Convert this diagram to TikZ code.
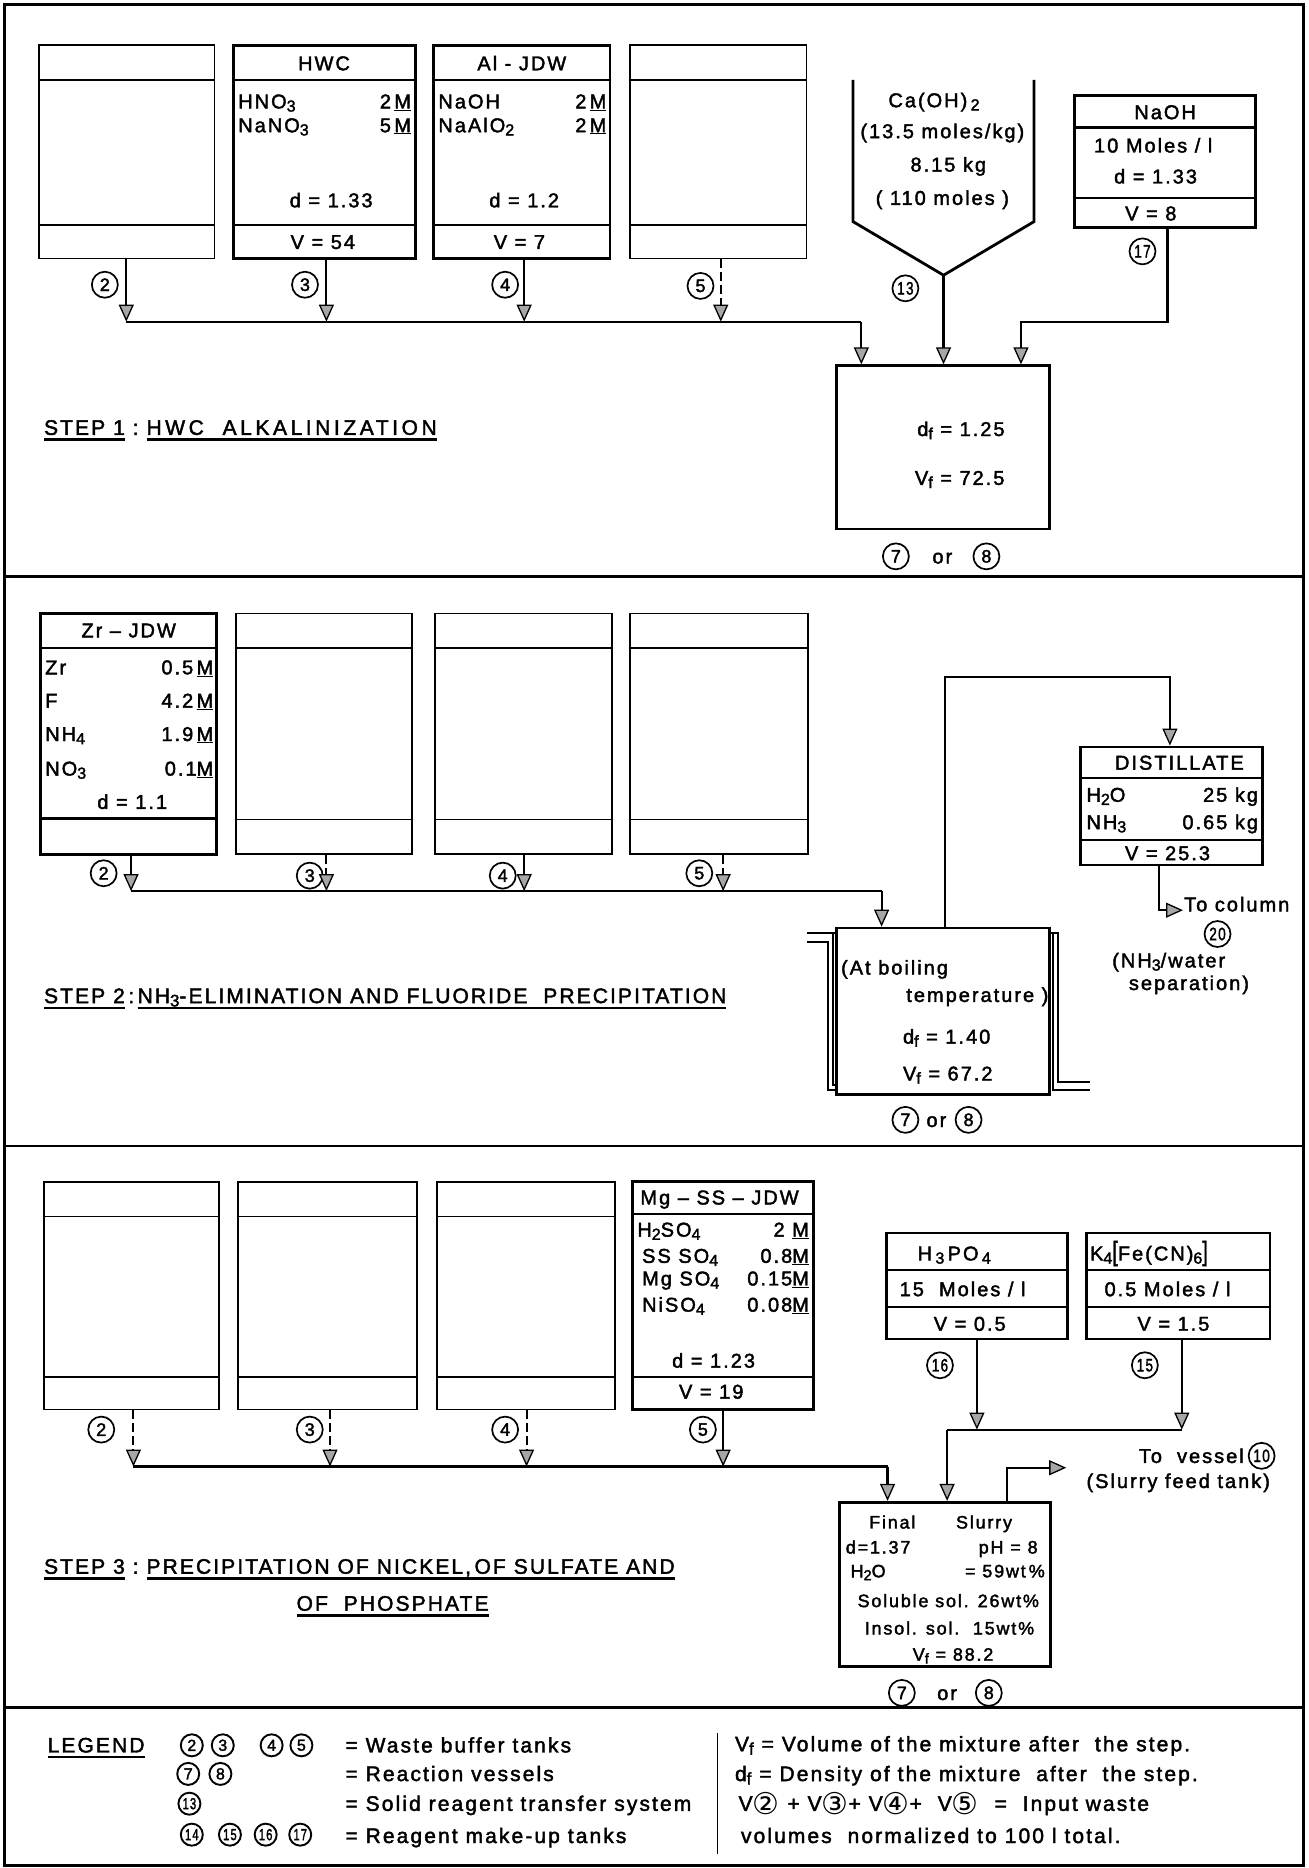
\documentclass[tikz,border=0pt]{standalone}
\usepackage{fontspec}
\setmainfont{Liberation Sans}[LetterSpace=10,FakeBold=2]
\newfontfamily\djv{DejaVu Sans}
\usepackage{graphicx}
\usetikzlibrary{arrows.meta,fit}
\newcommand\fsz[1]{\fontsize{#1}{#1}\selectfont}
\newcommand\dnx[1]{\raisebox{-0.3ex}{\scalebox{0.8}{#1}}}
\newcommand\uM{\underline{M}}
\newcommand\ulthick[1]{\setbox0=\hbox{#1}\rlap{\rule[-6pt]{\wd0}{2.4pt}}\box0}
\newcommand\cgl[1]{\raisebox{-3.5pt}{\djv\fsz{30}#1}}
\begin{document}
\begin{tikzpicture}[x=1.1913pt, y=-1.1913pt,
  txt/.style={inner sep=0pt, outer sep=0pt, font=\fsz{20}},
  vtxt/.style={inner sep=0pt, outer sep=0pt, font=\fsz{18}},
  ttl/.style={inner sep=0pt, outer sep=0pt, font=\fsz{21}},
  lgd/.style={inner sep=0pt, outer sep=0pt, font=\fsz{21}},
  tbox/.style={draw, line width=1.7pt, inner sep=0pt},
  kbox/.style={draw, line width=2.8pt, inner sep=0pt},
  bline/.style={line width=1.7pt},
  kline/.style={line width=2.4pt},
  flow/.style={line width=2.1pt},
  arr/.style={flow, -{Triangle[length=17pt,width=15pt,fill=gray!70,line width=1.3pt]}},
  dsh/.style={dash pattern=on 9pt off 4pt},
  cn/.style={draw, circle, line width=1.7pt, minimum size=26pt, inner sep=0pt, font=\fsz{18}},
  lcn/.style={draw, circle, line width=1.9pt, minimum size=22pt, inner sep=0pt, font=\fsz{16}},
]
\useasboundingbox (0,0) rectangle (1098,1568);
% frame and dividers
\draw[line width=3pt] (4,4) rectangle (1094,1566);
\draw[line width=2.8pt] (4,484) -- (1094,484);
\draw[line width=2.8pt] (4,962) -- (1094,962);
\draw[line width=2.8pt] (4,1433) -- (1094,1433);

%%%%%%%%%%%%%%%% STEP 1
\node[tbox, fit={(33,38) (180,217)}] (s1t1) {};
\draw[bline] (33,67) -- (180,67); \draw[bline] (33,189) -- (180,189);
\node[kbox, fit={(196,38) (349,217)}] (s1t2) {};
\draw[kline] (196,67) -- (349,67); \draw[kline] (196,189) -- (349,189);
\node[kbox, fit={(364,38) (512,217)}] (s1t3) {};
\draw[kline] (364,67) -- (512,67); \draw[kline] (364,189) -- (512,189);
\node[tbox, fit={(529,38) (677,217)}] (s1t4) {};
\draw[bline] (529,67) -- (677,67); \draw[bline] (529,189) -- (677,189);

\node[txt, anchor=base] (s1hwc) at (272,59) {HWC};
\node[txt, anchor=base west] (s1a1) at (200,91) {HNO\dnx{3}};
\node[txt, anchor=base east] (s1a2) at (345,91) {2\,\uM};
\node[txt, anchor=base west] (s1a3) at (200,111) {NaNO\dnx{3}};
\node[txt, anchor=base east] (s1a4) at (345,111) {5\,\uM};
\node[txt, anchor=base] (s1a5) at (278,174) {d = 1.33};
\node[txt, anchor=base] (s1a6) at (271,209) {V = 54};

\node[txt, anchor=base] (s1al) at (438,59) {Al - JDW};
\node[txt, anchor=base west] (s1b1) at (368,91) {NaOH};
\node[txt, anchor=base east] (s1b2) at (509,91) {2\,\uM};
\node[txt, anchor=base west] (s1b3) at (368,111) {NaAlO\dnx{2}};
\node[txt, anchor=base east] (s1b4) at (509,111) {2\,\uM};
\node[txt, anchor=base] (s1b5) at (440,174) {d = 1.2};
\node[txt, anchor=base] (s1b6) at (436,209) {V = 7};

% hopper
\draw[line width=2.8pt] (716,67) -- (716,186) -- (792,231) -- (868,186) -- (868,67);
\coordinate (hoptip) at (792,231);
\node[txt, anchor=base] (s1c1) at (784,90) {Ca(OH)\,\dnx{2}};
\node[txt, anchor=base] (s1c2) at (791,116) {(13.5 moles/kg)};
\node[txt, anchor=base] (s1c3) at (796,144) {8.15 kg};
\node[txt, anchor=base] (s1c4) at (791,172) {( 110 moles )};

% NaOH tank
\node[kbox, fit={(902,80) (1054,191)}] (s1na) {};
\draw[kline] (902,107) -- (1054,107); \draw[kline] (902,166) -- (1054,166);
\node[txt, anchor=base] (s1d1) at (978,100) {NaOH};
\node[txt, anchor=base] (s1d2) at (968,128) {10 Moles / l};
\node[txt, anchor=base] (s1d3) at (970,154) {d = 1.33};
\node[txt, anchor=base] (s1d4) at (966,185) {V = 8};

% reaction vessel 1
\node[kbox, fit={(702,307) (881,444)}] (s1v) {};
\node[txt, anchor=base west] (s1v1) at (770,366) {d\dnx{f} = 1.25};
\node[txt, anchor=base west] (s1v2) at (768,407) {V\dnx{f} = 72.5};
\node[cn] (s1r7) at (752,467) {7};
\node[txt, anchor=base] (s1or) at (791,473) {or};
\node[cn] (s1r8) at (828,467) {8};

% circled numbers
\node[cn] (s1n2) at (88,239) {2};
\node[cn] (s1n3) at (256,239) {3};
\node[cn] (s1n4) at (424,239) {4};
\node[cn] (s1n5) at (588,240) {5};
\node[cn] (s1n13) at (760,242) {\scalebox{0.75}[1]{13}};
\node[cn] (s1n17) at (959,211) {\scalebox{0.75}[1]{17}};

% flows
\coordinate (j12) at (106,270);
\coordinate (j13) at (274,270);
\coordinate (j14) at (440,270);
\coordinate (j15) at (605,270);
\coordinate (k1) at (723,270);
\draw[arr] (s1t1.south -| j12) -- (j12);
\draw[arr] (s1t2.south -| j13) -- (j13);
\draw[arr] (s1t3.south -| j14) -- (j14);
\draw[arr, dsh] (s1t4.south -| j15) -- (j15);
\draw[flow] (j12) -- (k1);
\draw[arr] (k1) -- (k1 |- s1v.north);
\draw[arr] (hoptip) -- (hoptip |- s1v.north);
\coordinate (n1) at (980,270);
\coordinate (n2) at (857,270);
\draw[arr] (s1na.south -| n1) -- (n1) -- (n2) -- (n2 |- s1v.north);

\node[ttl, anchor=base west] (title1) at (37,365) {\ulthick{STEP 1}\ :\ \ulthick{\addfontfeature{LetterSpace=17}HWC\ \ ALKALINIZATION}};

%%%%%%%%%%%%%%%% STEP 2
\node[kbox, fit={(34,515) (182,717)}] (s2t1) {};
\draw[kline] (34,544) -- (182,544); \draw[kline] (34,687) -- (182,687);
\node[tbox, fit={(198,515) (346,717)}] (s2t2) {};
\draw[bline] (198,544) -- (346,544); \draw[bline] (198,688) -- (346,688);
\node[tbox, fit={(365,515) (514,717)}] (s2t3) {};
\draw[bline] (365,544) -- (514,544); \draw[bline] (365,688) -- (514,688);
\node[tbox, fit={(529,515) (678,717)}] (s2t4) {};
\draw[bline] (529,544) -- (678,544); \draw[bline] (529,688) -- (678,688);

\node[txt, anchor=base] (s2z0) at (108,535) {Zr -- JDW};
\node[txt, anchor=base west] (s2z1) at (38,566) {Zr};
\node[txt, anchor=base east] (s2z2) at (179,566) {0.5\,\uM};
\node[txt, anchor=base west] (s2z3) at (38,594) {F};
\node[txt, anchor=base east] (s2z4) at (179,594) {4.2\,\uM};
\node[txt, anchor=base west] (s2z5) at (38,622) {NH\dnx{4}};
\node[txt, anchor=base east] (s2z6) at (179,622) {1.9\,\uM};
\node[txt, anchor=base west] (s2z7) at (38,651) {NO\dnx{3}};
\node[txt, anchor=base east] (s2z8) at (179,651) {0.1\uM};
\node[txt, anchor=base] (s2z9) at (111,679) {d = 1.1};

\node[cn] (s2n2) at (87,733) {2};
\node[cn] (s2n3) at (260,735) {3};
\node[cn] (s2n4) at (422,735) {4};
\node[cn] (s2n5) at (587,733) {5};

\node[kbox, fit={(702,779) (881,919)}] (s2v) {};
% heating jacket
\draw[bline] (677,783) -- (702,783);
\draw[bline] (699,783) -- (699,911) -- (702,911);
\draw[bline] (677,790.5) -- (695,790.5) -- (695,915) -- (702,915);
\draw[bline] (881,783) -- (888,783) -- (888,908) -- (915,908);
\draw[bline] (884,783) -- (884,915) -- (915,915);

\node[txt, anchor=base west] (s2v1) at (706,818) {(At boiling};
\node[txt, anchor=base east] (s2v2) at (880,841) {temperature )};
\node[txt, anchor=base west] (s2v3) at (758,876) {d\dnx{f} = 1.40};
\node[txt, anchor=base west] (s2v4) at (758,907) {V\dnx{f} = 67.2};
\node[cn] (s2r7) at (760,940) {7};
\node[txt, anchor=base] (s2or) at (786,946) {or};
\node[cn] (s2r8) at (813,940) {8};

\coordinate (j22) at (110,748);
\coordinate (j23) at (274,748);
\coordinate (j24) at (440,748);
\coordinate (j25) at (607,748);
\coordinate (k2) at (740,748);
\draw[arr] (s2t1.south -| j22) -- (j22);
\draw[arr, dsh] (s2t2.south -| j23) -- (j23);
\draw[arr] (s2t3.south -| j24) -- (j24);
\draw[arr, dsh] (s2t4.south -| j25) -- (j25);
\draw[flow] (j22) -- (k2);
\draw[arr] (k2) -- (k2 |- s2v.north);

% distillate
\node[kbox, fit={(907,627) (1060,726)}] (s2d) {};
\draw[kline] (907,653) -- (1060,653); \draw[kline] (907,705) -- (1060,705);
\node[txt, anchor=base] (s2d0) at (990,646) {DISTILLATE};
\node[txt, anchor=base west] (s2d1) at (912,673) {H\dnx{2}O};
\node[txt, anchor=base east] (s2d2) at (1056,673) {25 kg};
\node[txt, anchor=base west] (s2d3) at (912,696) {NH\dnx{3}};
\node[txt, anchor=base east] (s2d4) at (1056,696) {0.65 kg};
\node[txt, anchor=base] (s2d5) at (980,722) {V = 25.3};
\coordinate (dup) at (793,568);
\coordinate (dr) at (982,568);
\draw[arr] (s2v.north -| dup) -- (dup) -- (dr) -- (dr |- s2d.north);
\coordinate (tc1) at (973,764);
\coordinate (tc2) at (993,764);
\draw[arr] (s2d.south -| tc1) -- (tc1) -- (tc2);
\node[txt, anchor=base west] (s2c1) at (994,765) {To column};
\node[cn] (s2n20) at (1022,784) {\scalebox{0.75}[1]{20}};
\node[txt, anchor=base] (s2c2) at (981,812) {(NH\dnx{3}/water};
\node[txt, anchor=base] (s2c3) at (998,831) {separation)};

\node[ttl, anchor=base west] (title2) at (37,842) {\ulthick{STEP 2}\,:\,\ulthick{NH\dnx{3}-ELIMINATION AND FLUORIDE\ \ PRECIPITATION}};

%%%%%%%%%%%%%%%% STEP 3
\node[tbox, fit={(37,992) (184,1183)}] (s3t1) {};
\draw[bline] (37,1021) -- (184,1021); \draw[bline] (37,1156) -- (184,1156);
\node[tbox, fit={(200,992) (350,1183)}] (s3t2) {};
\draw[bline] (200,1021) -- (350,1021); \draw[bline] (200,1156) -- (350,1156);
\node[tbox, fit={(367,992) (516,1183)}] (s3t3) {};
\draw[bline] (367,1021) -- (516,1021); \draw[bline] (367,1156) -- (516,1156);
\node[kbox, fit={(531,992) (683,1183)}] (s3t4) {};
\draw[kline] (531,1019) -- (683,1019); \draw[kline] (531,1156) -- (683,1156);

\node[txt, anchor=base] (s3m0) at (604,1011) {Mg -- SS -- JDW};
\node[txt, anchor=base west] (s3m1) at (535,1038) {H\dnx{2}SO\dnx{4}};
\node[txt, anchor=base east] (s3m2) at (679,1038) {2 \uM};
\node[txt, anchor=base west] (s3m3) at (539,1060) {SS SO\dnx{4}};
\node[txt, anchor=base east] (s3m4) at (679,1060) {0.8\uM};
\node[txt, anchor=base west] (s3m5) at (539,1079) {Mg SO\dnx{4}};
\node[txt, anchor=base east] (s3m6) at (679,1079) {0.15\uM};
\node[txt, anchor=base west] (s3m7) at (539,1101) {NiSO\dnx{4}};
\node[txt, anchor=base east] (s3m8) at (679,1101) {0.08\uM};
\node[txt, anchor=base] (s3m9) at (599,1148) {d = 1.23};
\node[txt, anchor=base] (s3m10) at (597,1174) {V = 19};

\node[cn] (s3n2) at (85,1200) {2};
\node[cn] (s3n3) at (260,1200) {3};
\node[cn] (s3n4) at (424,1200) {4};
\node[cn] (s3n5) at (590,1200) {5};

% reagent tanks
\node[kbox, fit={(744,1035) (896,1124)}] (s3h) {};
\draw[kline] (744,1066) -- (896,1066); \draw[kline] (744,1097) -- (896,1097);
\node[txt, anchor=base] (s3h1) at (801,1058) {H\,\dnx{3}\,PO\,\dnx{4}};
\node[txt, anchor=base] (s3h2) at (808,1088) {15\ \ Moles / l};
\node[txt, anchor=base] (s3h3) at (814,1117) {V = 0.5};
\node[kbox, fit={(912,1035) (1066,1124)}] (s3k) {};
\draw[kline] (912,1066) -- (1066,1066); \draw[kline] (912,1097) -- (1066,1097);
\node[txt, anchor=base west] (s3k1) at (915,1058) {K\dnx{4}\scalebox{1}[1.35]{[}Fe(CN)\dnx{6}\scalebox{1}[1.35]{]}};
\node[txt, anchor=base] (s3k2) at (980,1088) {0.5 Moles / l};
\node[txt, anchor=base] (s3k3) at (985,1117) {V = 1.5};
\node[cn] (s3n16) at (789,1146) {\scalebox{0.75}[1]{16}};
\node[cn] (s3n15) at (961,1146) {\scalebox{0.75}[1]{15}};

% final vessel
\node[kbox, fit={(705,1261) (882,1399)}] (s3v) {};
\node[vtxt, anchor=base] (s3v1) at (749,1283) {Final};
\node[vtxt, anchor=base] (s3v2) at (826,1283) {Slurry};
\node[vtxt, anchor=base west] (s3v3) at (710,1304) {d=1.37};
\node[vtxt, anchor=base east] (s3v4) at (871,1304) {pH = 8};
\node[vtxt, anchor=base west] (s3v5) at (714,1324) {H\dnx{2}O};
\node[vtxt, anchor=base east] (s3v6) at (877,1324) {= 59wt\,\%};
\node[vtxt, anchor=base] (s3v7) at (796,1349) {Soluble sol. 26wt\%};
\node[vtxt, anchor=base] (s3v8) at (797,1372) {Insol. sol.\ \ 15wt\%};
\node[vtxt, anchor=base] (s3v9) at (800,1394) {V\dnx{f} = 88.2};
\node[cn] (s3r7) at (757,1421) {7};
\node[txt, anchor=base] (s3or) at (795,1427) {or};
\node[cn] (s3r8) at (830,1421) {8};

\coordinate (j32) at (112,1231);
\coordinate (j33) at (277,1231);
\coordinate (j34) at (442,1231);
\coordinate (j35) at (607,1231);
\coordinate (k3) at (745,1231);
\draw[arr, dsh] (s3t1.south -| j32) -- (j32);
\draw[arr, dsh] (s3t2.south -| j33) -- (j33);
\draw[arr, dsh] (s3t3.south -| j34) -- (j34);
\draw[arr] (s3t4.south -| j35) -- (j35);
\draw[flow] (j32) -- (k3);
\draw[arr] (k3) -- (k3 |- s3v.north);
\coordinate (h1) at (820,1200);
\coordinate (h2) at (992,1200);
\coordinate (h0) at (795,1200);
\draw[arr] (s3h.south -| h1) -- (h1);
\draw[arr] (s3k.south -| h2) -- (h2);
\draw[flow] (h2) -- (h0);
\draw[arr] (h0) -- (h0 |- s3v.north);
\coordinate (o1) at (845,1232);
\coordinate (o2) at (895,1232);
\draw[arr] (s3v.north -| o1) -- (o1) -- (o2);
\node[txt, anchor=base east] (s3o1) at (1044,1228) {To\ \ vessel};
\node[cn] (s3n10) at (1059,1222) {\scalebox{0.75}[1]{10}};
\node[txt, anchor=base] (s3o2) at (989,1249) {(Slurry feed tank)};

\node[ttl, anchor=base west] (title3a) at (37,1321) {\ulthick{STEP 3}\ :\ \ulthick{PRECIPITATION\ OF NICKEL,\,OF SULFATE\ AND}};
\node[ttl, anchor=base west] (title3b) at (249,1352) {\ulthick{OF\ \ PHOSPHATE}};

%%%%%%%%%%%%%%%% LEGEND
\node[lgd, anchor=base west] (lg0) at (40,1471) {\ulthick{LEGEND}};
\node[lcn] (lg2) at (161,1465) {2};
\node[lcn] (lg3) at (187,1465) {3};
\node[lcn] (lg4) at (228,1465) {4};
\node[lcn] (lg5) at (253,1465) {5};
\node[lcn] (lg7) at (158,1489) {7};
\node[lcn] (lg8) at (185,1489) {8};
\node[lcn] (lg13) at (159,1514) {\scalebox{0.7}[1]{13}};
\node[lcn] (lg14) at (161,1540) {\scalebox{0.7}[1]{14}};
\node[lcn] (lg15) at (193,1540) {\scalebox{0.7}[1]{15}};
\node[lcn] (lg16) at (223,1540) {\scalebox{0.7}[1]{16}};
\node[lcn] (lg17) at (252,1540) {\scalebox{0.7}[1]{17}};
\node[lgd, anchor=base west] (lgt1) at (290,1471) {= Waste buffer tanks};
\node[lgd, anchor=base west] (lgt2) at (290,1495) {= Reaction vessels};
\node[lgd, anchor=base west] (lgt3) at (290,1520) {= Solid reagent transfer system};
\node[lgd, anchor=base west] (lgt4) at (290,1547) {= Reagent make-up tanks};
\draw[line width=1.2pt] (602,1455) -- (602,1556);
\node[lgd, anchor=base west] (lgr1) at (617,1470) {V\dnx{f} = Volume of the mixture after\ \ the step.};
\node[lgd, anchor=base west] (lgr2) at (617,1495) {d\dnx{f} = Density of the mixture\ \ after\ \ the step.};
\node[lgd, anchor=base west] (lgr3) at (620,1520) {V\cgl{②}\ +\ V\cgl{③}+\ V\cgl{④}+\ \ V\cgl{⑤}\ \ =\ \ Input waste};
\node[lgd, anchor=base west] (lgr4) at (622,1547) {volumes\ \ normalized to 100 l total.};
\end{tikzpicture}
\end{document}
